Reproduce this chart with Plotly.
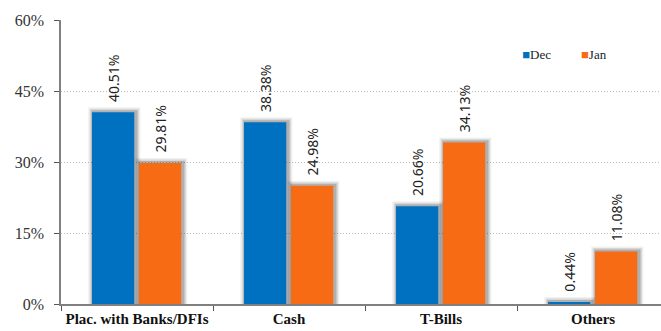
import plotly.graph_objects as go

# Portfolio composition by asset class, December vs January (%)
categories = ["Plac. with Banks/DFIs", "Cash", "T-Bills", "Others"]
dec_values = [40.51, 38.38, 20.66, 0.44]
jan_values = [29.81, 24.98, 34.13, 11.08]
y_ticks = [0, 15, 30, 45, 60]

BLUE = "#0070C0"
ORANGE = "#F76B15"
SERIF = "Liberation Serif"
SANS = "Noto Sans"

BAR_W = 0.278
series = [
    ("Dec", dec_values, BLUE, -0.296, "legend", 0.702),
    ("Jan", jan_values, ORANGE, 0.013, "legend2", 0.800),
]

fig = go.Figure()

# soft drop shadow behind each bar: stacked translucent outlines, nudged right
for name, vals, color, off, lg, lx in series:
    for lw, alpha in [(10, 0.06), (7, 0.10), (4, 0.18)]:
        fig.add_trace(go.Bar(
            x=categories, y=vals, width=BAR_W, offset=off + 0.008,
            marker=dict(color="rgba(0,0,0,0)",
                        line=dict(color=f"rgba(0,0,0,{alpha})", width=lw)),
            showlegend=False, hoverinfo="skip",
        ))

for name, vals, color, off, lg, lx in series:
    fig.add_trace(go.Bar(
        x=categories, y=vals, name=name, width=BAR_W, offset=off,
        marker=dict(color=color, line=dict(width=0)),
        texttemplate="\u00a0\u00a0%{y:.2f}%", textposition="outside", textangle=-90,
        textfont=dict(family=SANS, size=14, color="#222"),
        constraintext="none", cliponaxis=False, showlegend=False,
    ))

# legend entries: coloured square glyph followed by the series name
for name, vals, color, off, lg, lx in series:
    fig.add_trace(go.Scatter(
        x=[None], y=[None], mode="markers", legend=lg,
        name=f"<span style='color:{color}'>\u25a0</span>{name}",
        marker=dict(symbol="square", size=0, color="rgba(0,0,0,0)"),
    ))

legend_style = dict(orientation="h", y=0.88, xanchor="left", yanchor="middle",
                    font=dict(family=SERIF, size=13, color="#222"),
                    bgcolor="rgba(0,0,0,0)", itemwidth=30)

fig.update_layout(
    width=661, height=331,
    margin=dict(l=61, r=0, t=20, b=27, autoexpand=False),
    barmode="overlay",
    plot_bgcolor="white", paper_bgcolor="white",
    showlegend=True,
    legend=dict(x=series[0][5], **legend_style),
    legend2=dict(x=series[1][5], **legend_style),
    xaxis=dict(
        type="category", range=[-0.5, 3.447], automargin=False,
        showline=True, linecolor="#808080", linewidth=1.5,
        ticks="outside", tickson="boundaries", ticklen=5, tickcolor="#555",
        tickangle=0,
        tickfont=dict(family=SERIF, size=15, color="#111", weight="bold"),
        showgrid=False,
    ),
    yaxis=dict(
        range=[0, 60], tickvals=y_ticks, ticktext=[f"{v}%" for v in y_ticks],
        automargin=False,
        showline=True, linecolor="#808080", linewidth=1.5,
        ticks="outside", ticklen=5, tickcolor="#555", ticklabelstandoff=7,
        tickfont=dict(family=SERIF, size=16, color="#333"),
        showgrid=True, gridcolor="#bdbdbd", griddash="1px,2px", gridwidth=1,
        zeroline=False,
    ),
)

fig.write_html("out.html")
